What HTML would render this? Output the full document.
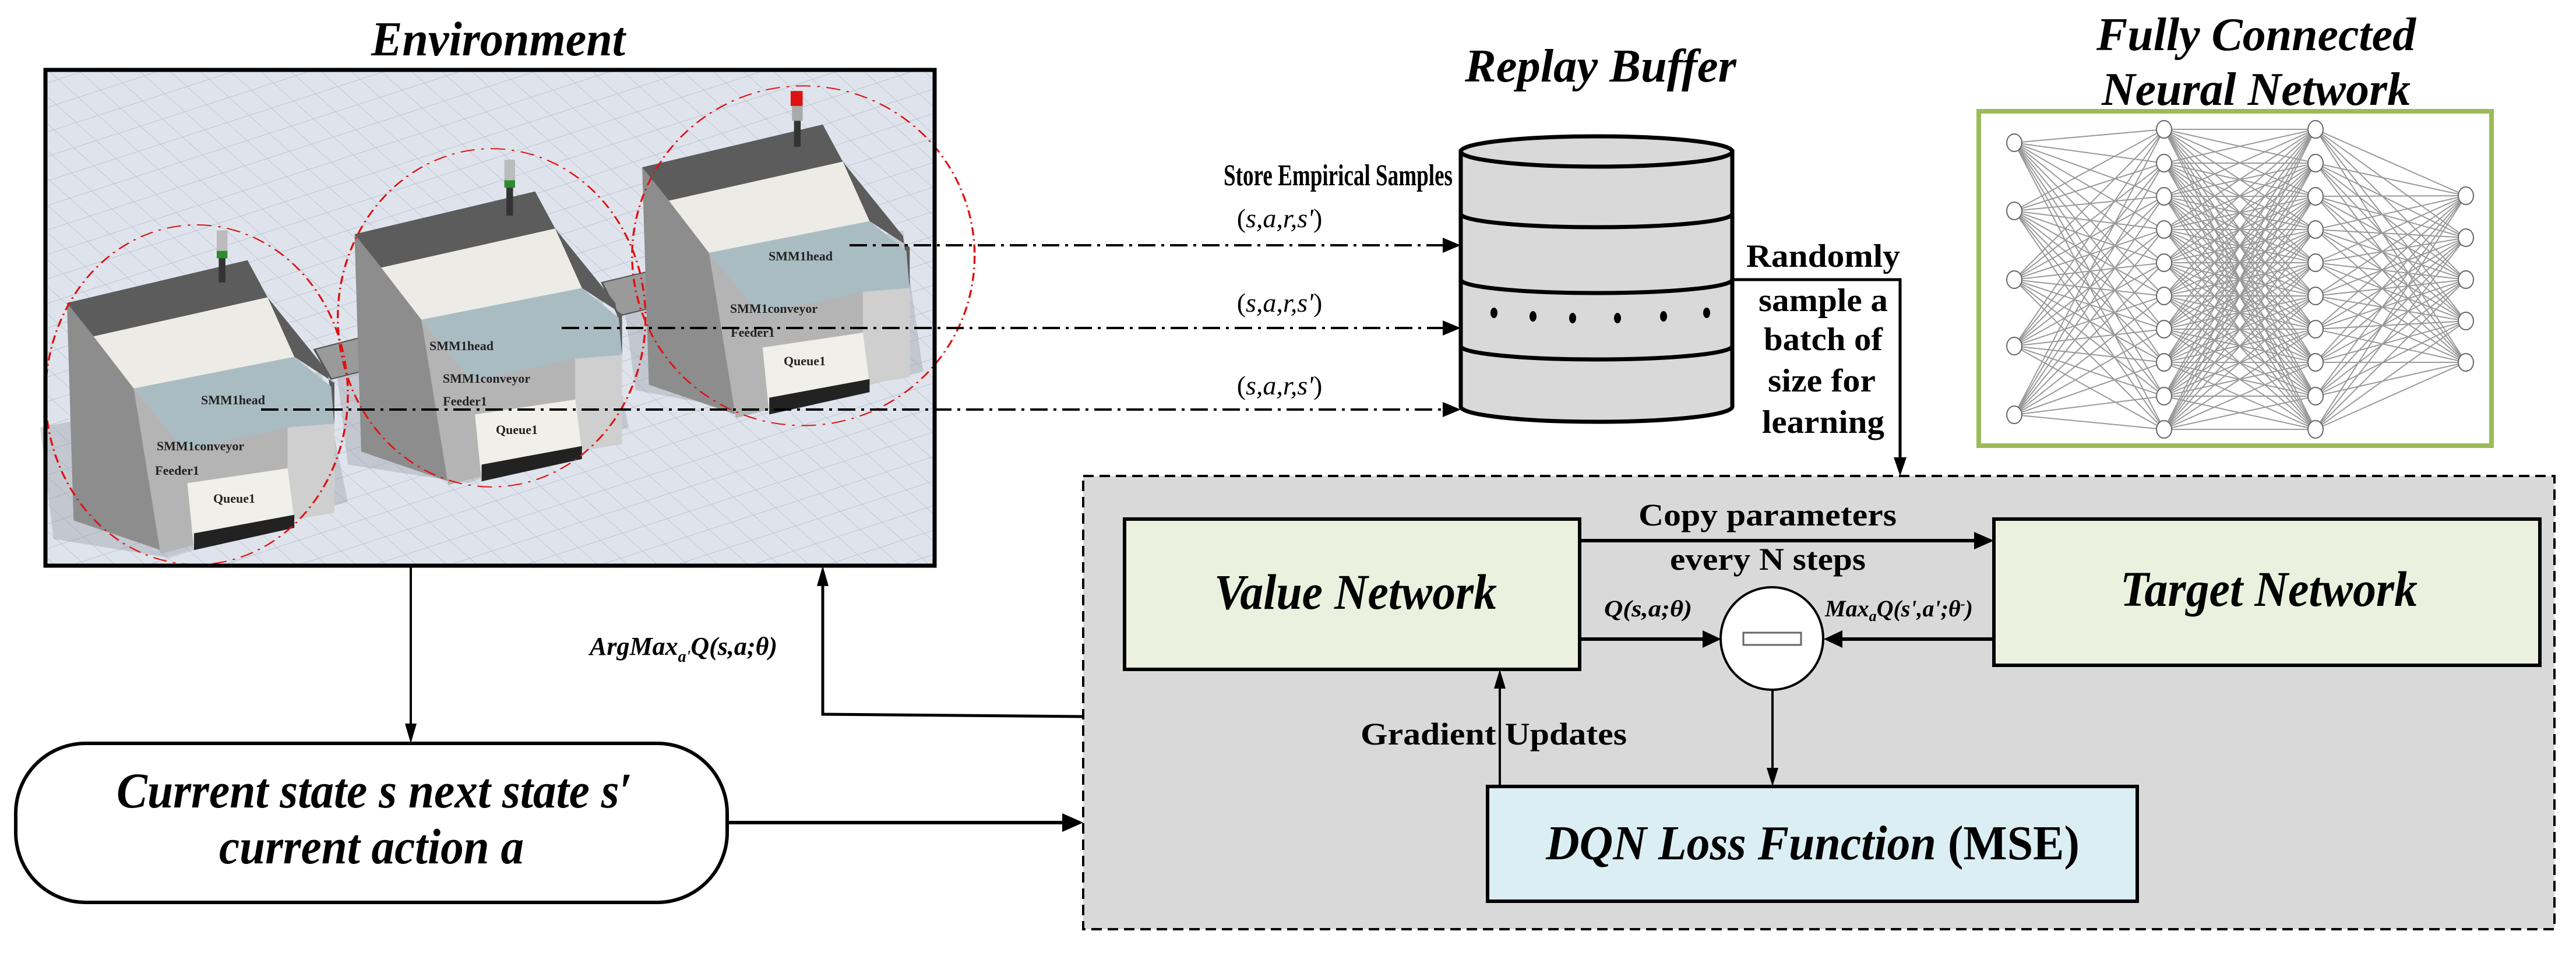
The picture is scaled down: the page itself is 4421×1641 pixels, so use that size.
<!DOCTYPE html>
<html><head><meta charset="utf-8"><style>
html,body{margin:0;padding:0;background:#fff;}
svg{display:block;}
text{font-family:"Liberation Serif",serif;}
</style></head><body>
<svg id="s" width="4421" height="1641" viewBox="0 0 4421 1641" xmlns="http://www.w3.org/2000/svg">
<defs>
<pattern id="grid" width="40" height="40" patternUnits="userSpaceOnUse" patternTransform="rotate(-18) skewX(30)">
<rect width="40" height="40" fill="#dfe4ec"/><path d="M0,0 H40 M0,0 V40" stroke="#b9c3d3" stroke-width="2"/></pattern>
</defs>

<!-- Titles -->
<text x="855" y="95" font-size="84" font-weight="bold" font-style="italic" text-anchor="middle" textLength="436" lengthAdjust="spacingAndGlyphs">Environment</text>
<text x="2747" y="140" font-size="80" font-weight="bold" font-style="italic" text-anchor="middle" textLength="466" lengthAdjust="spacingAndGlyphs">Replay Buffer</text>
<text x="3872" y="86" font-size="80" font-weight="bold" font-style="italic" text-anchor="middle" textLength="548" lengthAdjust="spacingAndGlyphs">Fully Connected</text>
<text x="3872" y="180" font-size="80" font-weight="bold" font-style="italic" text-anchor="middle" textLength="530" lengthAdjust="spacingAndGlyphs">Neural Network</text>

<!-- Environment box -->
<rect x="78" y="120" width="1526" height="851" fill="url(#grid)"/>
<g transform="matrix(1.148,0,0,0.638,0,0)">
  <polygon points="60,1150 480,1000 520,1350 250,1500 80,1450" fill="#8e959f" opacity="0.35"/>
  <polygon points="500,950 900,800 940,1150 700,1300 520,1250" fill="#8e959f" opacity="0.35"/>
  <polygon points="930,780 1350,620 1380,1000 1130,1110 950,1050" fill="#8e959f" opacity="0.35"/>
  <polygon points="470,940 600,880 625,960 495,1020" fill="#9a9a9a" stroke="#555" stroke-width="3"/>
  <polygon points="560,1020 600,1000 605,1200 580,1210" fill="#4a4a4a"/>
  <polygon points="900,760 1040,700 1060,790 925,850" fill="#9a9a9a" stroke="#555" stroke-width="3"/>
  <polygon points="975,840 1035,820 1035,1010 1010,1020" fill="#4a4a4a"/>
  <g id="m1" transform="translate(100,700)">
    <polygon points="0,115 40,205 100,345 140,780 10,700" fill="#8d8d8d"/>
    <polygon points="0,115 270,0 300,100 40,205" fill="#5c5c5c"/>
    <polygon points="40,205 300,100 340,260 100,345" fill="#ecebe6"/>
    <polygon points="300,100 340,260 400,330 400,440 390,300" fill="#5c5c5c"/>
    <polygon points="100,345 340,260 395,340 400,450 175,510" fill="#a9bcc2"/>
    <polygon points="100,345 175,510 330,450 330,700 140,790" fill="#b4b4b4"/>
    <polygon points="330,450 400,440 400,680 330,700" fill="#cfcfcf"/>
    <polygon points="180,600 330,560 340,700 190,780" fill="#f0efe9"/>
    <polygon points="190,735 340,685 340,720 190,780" fill="#222"/>
  </g>
  <use href="#m1" transform="translate(430,-185)"/>
  <use href="#m1" transform="translate(860,-365)"/>
  <rect x="327" y="620" width="10" height="140" fill="#333"/><rect x="324" y="620" width="16" height="60" fill="#bbb"/><rect x="324" y="675" width="16" height="20" fill="#2e8b2e"/>
  <rect x="757" y="430" width="10" height="150" fill="#333"/><rect x="754" y="430" width="16" height="60" fill="#bbb"/><rect x="754" y="485" width="16" height="20" fill="#2e8b2e"/>
  <rect x="1187" y="245" width="10" height="150" fill="#333"/><rect x="1182" y="245" width="18" height="40" fill="#d11"/><rect x="1184" y="285" width="16" height="40" fill="#aaa"/>
  <g fill="none" stroke="#e01010" stroke-width="3" stroke-dasharray="22 10 4 10">
    <ellipse cx="294" cy="1062" rx="226" ry="457"/>
    <ellipse cx="735" cy="855" rx="230" ry="455"/>
    <ellipse cx="1201" cy="688" rx="256" ry="457"/>
  </g>
</g>
<g font-family="Liberation Sans, sans-serif" font-weight="bold" font-size="22" fill="#222" text-anchor="middle">
<text x="400" y="694">SMM1head</text><text x="344" y="773">SMM1conveyor</text><text x="304" y="815">Feeder1</text><text x="402" y="863">Queue1</text>
<text x="792" y="601">SMM1head</text><text x="835" y="657">SMM1conveyor</text><text x="798" y="696">Feeder1</text><text x="887" y="745">Queue1</text>
<text x="1374" y="447">SMM1head</text><text x="1328" y="537">SMM1conveyor</text><text x="1292" y="578">Feeder1</text><text x="1381" y="627">Queue1</text>
</g>
<rect x="78" y="120" width="1526" height="851" fill="none" stroke="#000" stroke-width="7"/>

<!-- dash-dot arrows to buffer -->
<g stroke="#000" stroke-width="4" stroke-dasharray="30 10 5 10" fill="none">
<line x1="1458" y1="421" x2="2480" y2="421"/>
<line x1="964" y1="563" x2="2480" y2="563"/>
<line x1="448" y1="703" x2="2480" y2="703"/>
</g>
<g fill="#000">
<polygon points="2476,408 2507,421 2476,434"/>
<polygon points="2476,550 2507,563 2476,576"/>
<polygon points="2476,690 2507,703 2476,716"/>
</g>
<g font-size="46" text-anchor="middle"><text x="2196" y="390">(<tspan font-style="italic">s,a,r,s'</tspan>)</text>
<text x="2196" y="535">(<tspan font-style="italic">s,a,r,s'</tspan>)</text>
<text x="2196" y="677">(<tspan font-style="italic">s,a,r,s'</tspan>)</text></g>

<!-- Cylinder -->
<g stroke="#000" stroke-width="7" fill="#d9d9d9">
<path d="M2507,260 V698 A233,26 0 0 0 2973,698 V260 Z"/>
<ellipse cx="2740" cy="260" rx="233" ry="26"/>
<path d="M2507,367 A233,23 0 0 0 2973,367" fill="none"/>
<path d="M2507,480 A233,23 0 0 0 2973,480" fill="none"/>
<path d="M2507,594 A233,23 0 0 0 2973,594" fill="none"/>
</g>
<text x="2100" y="318" font-size="52" font-weight="bold" textLength="393" lengthAdjust="spacingAndGlyphs">Store Empirical Samples</text>
<g fill="#000"><ellipse cx="2564" cy="537" rx="6" ry="9"/><ellipse cx="2631" cy="543" rx="6" ry="9"/><ellipse cx="2699" cy="546" rx="6" ry="9"/><ellipse cx="2776" cy="546" rx="6" ry="9"/><ellipse cx="2855" cy="543" rx="6" ry="9"/><ellipse cx="2929" cy="537" rx="6" ry="9"/></g>
<polyline points="2973,480 3261,480 3261,790" fill="none" stroke="#000" stroke-width="5"/>
<polygon points="3250,785 3261,817 3272,785" fill="#000"/>
<g font-size="56" font-weight="bold">
<text x="2997" y="458" textLength="264" lengthAdjust="spacingAndGlyphs">Randomly</text>
<text x="3018" y="534" textLength="222" lengthAdjust="spacingAndGlyphs">sample a</text>
<text x="3027" y="601" textLength="204" lengthAdjust="spacingAndGlyphs">batch of</text>
<text x="3034" y="672" textLength="185" lengthAdjust="spacingAndGlyphs">size for</text>
<text x="3024" y="743" textLength="210" lengthAdjust="spacingAndGlyphs">learning</text></g>

<!-- NN -->
<rect x="3396" y="191" width="880" height="574" fill="#fff" stroke="#9bbb59" stroke-width="8"/>
<g id="nn"></g>

<!-- Gray box -->
<rect x="1859" y="817" width="2525" height="778" fill="#d9d9d9" stroke="#000" stroke-width="4" stroke-dasharray="18 10"/>
<rect x="1930" y="891" width="781" height="258" fill="#ebf1de" stroke="#000" stroke-width="6"/>
<rect x="3422" y="891" width="937" height="251" fill="#ebf1de" stroke="#000" stroke-width="6"/>
<rect x="2553" y="1350" width="1115" height="197" fill="#dbeef3" stroke="#000" stroke-width="6"/>
<text x="2084" y="1045" font-size="86" font-weight="bold" font-style="italic" textLength="485" lengthAdjust="spacingAndGlyphs">Value Network</text>
<text x="3639" y="1040" font-size="86" font-weight="bold" font-style="italic" textLength="510" lengthAdjust="spacingAndGlyphs">Target Network</text>
<text x="2653" y="1475" font-size="84" textLength="916" lengthAdjust="spacingAndGlyphs"><tspan font-weight="bold" font-style="italic">DQN Loss Function </tspan><tspan font-weight="bold">(MSE)</tspan></text>
<circle cx="3041" cy="1096" r="88" fill="#fff" stroke="#000" stroke-width="4"/>
<rect x="2992" y="1086" width="99" height="21" fill="#fff" stroke="#666" stroke-width="3"/>
<line x1="2711" y1="928" x2="3390" y2="928" stroke="#000" stroke-width="6"/><polygon points="3388,913 3422,928 3388,943"/>
<line x1="2711" y1="1097" x2="2925" y2="1097" stroke="#000" stroke-width="6"/><polygon points="2922,1082 2954,1097 2922,1112"/>
<line x1="3422" y1="1097" x2="3160" y2="1097" stroke="#000" stroke-width="6"/><polygon points="3162,1082 3130,1097 3162,1112"/>
<line x1="3042" y1="1184" x2="3042" y2="1320" stroke="#000" stroke-width="4"/><polygon points="3032,1318 3042,1350 3052,1318"/>
<line x1="2574" y1="1350" x2="2574" y2="1180" stroke="#000" stroke-width="4"/><polygon points="2564,1182 2574,1149 2584,1182"/>
<g font-size="54" font-weight="bold">
<text x="2812" y="902" textLength="443" lengthAdjust="spacingAndGlyphs">Copy parameters</text>
<text x="2866" y="978" textLength="336" lengthAdjust="spacingAndGlyphs">every N steps</text>
<text x="2335" y="1278" textLength="457" lengthAdjust="spacingAndGlyphs">Gradient Updates</text></g>
<text x="2753" y="1058" font-size="40" font-weight="bold" font-style="italic" textLength="151" lengthAdjust="spacingAndGlyphs">Q(s,a;θ)</text>
<text x="3132" y="1058" font-size="40" font-weight="bold" font-style="italic">Max<tspan font-size="26" dy="8">a</tspan><tspan dy="-8">Q(s',a';θ</tspan><tspan font-size="24" dy="-14">-</tspan><tspan dy="14">)</tspan></text>

<!-- left connectors -->
<line x1="705" y1="971" x2="705" y2="1245" stroke="#000" stroke-width="4"/><polygon points="695,1242 705,1276 715,1242"/>
<polyline points="1859,1230 1412,1226 1412,1005" fill="none" stroke="#000" stroke-width="5"/><polygon points="1402,1006 1412,971 1422,1006"/>
<text x="1012" y="1124" font-size="44" font-weight="bold" font-style="italic">ArgMax<tspan font-size="28" dy="12">a'</tspan><tspan dy="-12">Q(s,a;θ)</tspan></text>
<rect x="27" y="1276" width="1221" height="273" rx="120" ry="120" fill="#fff" stroke="#000" stroke-width="6"/>
<g font-size="86" font-weight="bold" font-style="italic">
<text x="200" y="1386" textLength="885" lengthAdjust="spacingAndGlyphs">Current state s next state s′</text>
<text x="376" y="1482" textLength="523" lengthAdjust="spacingAndGlyphs">current action a</text></g>
<line x1="1248" y1="1412" x2="1825" y2="1412" stroke="#000" stroke-width="6"/><polygon points="1823,1396 1859,1412 1823,1428"/>
</svg>
<script>
(function(){
var L=[[3457,[245,362,480,594,712]],[3714,[222,280,337,394,451,508,565,622,680,737]],[3974,[222,280,337,394,451,508,565,622,680,737]],[4232,[336,408,480,551,622]]];
var g=document.getElementById('nn'),h='';
for(var i=0;i<3;i++){var a=L[i],b=L[i+1];a[1].forEach(function(y1){b[1].forEach(function(y2){h+='<line x1="'+a[0]+'" y1="'+y1+'" x2="'+b[0]+'" y2="'+y2+'" stroke="#999" stroke-width="2"/>';});});}
L.forEach(function(l){l[1].forEach(function(y){h+='<ellipse cx="'+l[0]+'" cy="'+y+'" rx="13" ry="15" fill="#fff" stroke="#666" stroke-width="2"/>';});});
g.innerHTML=h;
})();
</script>
</body></html>
